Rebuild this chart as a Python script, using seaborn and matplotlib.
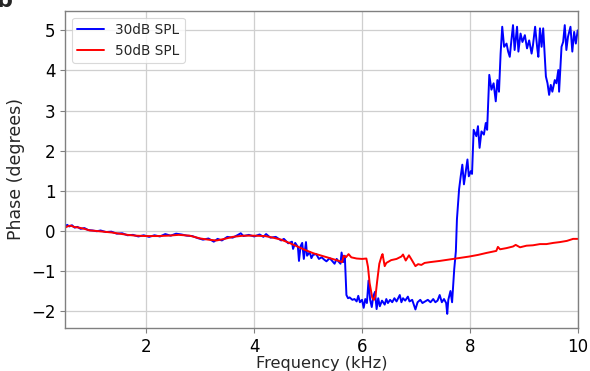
import numpy as np
import pandas as pd
import matplotlib
matplotlib.use("Agg")
import matplotlib.pyplot as plt
import seaborn as sns

# Phase response at 30 dB SPL (blue)
freq_30 = [0.49, 0.53, 0.57, 0.62, 0.67, 0.72, 0.78, 0.85, 0.92, 1.00, 1.08, 1.15, 1.25,
           1.35, 1.45, 1.55, 1.65, 1.75, 1.85, 1.95, 2.05, 2.15, 2.25, 2.35, 2.45, 2.55,
           2.65, 2.75, 2.85, 2.95, 3.05, 3.15, 3.25, 3.32, 3.40, 3.50, 3.60, 3.70, 3.75,
           3.80, 3.90, 4.00, 4.10, 4.17, 4.22, 4.30, 4.40, 4.50, 4.55, 4.63, 4.70, 4.72,
           4.76, 4.81, 4.83, 4.86, 4.89, 4.92, 4.96, 4.98, 5.03, 5.06, 5.09, 5.15, 5.20,
           5.25, 5.30, 5.34, 5.40, 5.45, 5.49, 5.53, 5.56, 5.60, 5.62, 5.65, 5.68, 5.71,
           5.74, 5.77, 5.82, 5.86, 5.90, 5.93, 5.96, 6.00, 6.03, 6.06, 6.09, 6.12, 6.15,
           6.18, 6.21, 6.24, 6.27, 6.30, 6.33, 6.37, 6.42, 6.45, 6.48, 6.52, 6.56, 6.60,
           6.64, 6.70, 6.73, 6.76, 6.80, 6.85, 6.88, 6.93, 6.99, 7.03, 7.08, 7.12, 7.17,
           7.22, 7.27, 7.32, 7.36, 7.40, 7.44, 7.48, 7.52, 7.56, 7.58, 7.60, 7.64, 7.67,
           7.71, 7.74, 7.76, 7.80, 7.83, 7.86, 7.89, 7.92, 7.955, 7.98, 8.017, 8.04, 8.07,
           8.12, 8.15, 8.18, 8.215, 8.26, 8.295, 8.32, 8.36, 8.40, 8.44, 8.48, 8.51, 8.54,
           8.57, 8.60, 8.635, 8.68, 8.71, 8.74, 8.77, 8.80, 8.83, 8.875, 8.90, 8.94, 8.975,
           9.02, 9.06, 9.10, 9.145, 9.17, 9.21, 9.25, 9.27, 9.30, 9.33, 9.36, 9.385, 9.41,
           9.44, 9.47, 9.50, 9.53, 9.575, 9.605, 9.64, 9.655, 9.70, 9.73, 9.76, 9.79, 9.82,
           9.866, 9.90, 9.934, 9.965, 10.0]
phase_30 = [0.09, 0.15, 0.11, 0.14, 0.08, 0.10, 0.05, 0.07, 0.02, 0.01, -0.01, 0.01, -0.03,
            -0.02, -0.07, -0.06, -0.11, -0.10, -0.14, -0.11, -0.15, -0.11, -0.14, -0.08, -0.12, -0.07,
            -0.09, -0.12, -0.13, -0.18, -0.22, -0.19, -0.27, -0.20, -0.24, -0.15, -0.17, -0.10, -0.06,
            -0.13, -0.10, -0.14, -0.09, -0.15, -0.08, -0.17, -0.15, -0.24, -0.20, -0.31, -0.27, -0.45,
            -0.30, -0.40, -0.75, -0.38, -0.30, -0.70, -0.28, -0.62, -0.53, -0.68, -0.60, -0.58, -0.70,
            -0.66, -0.72, -0.76, -0.68, -0.76, -0.82, -0.70, -0.76, -0.82, -0.54, -0.78, -0.62, -1.60,
            -1.68, -1.66, -1.72, -1.70, -1.76, -1.62, -1.78, -1.72, -1.92, -1.70, -1.80, -1.24, -1.72,
            -1.90, -1.62, -1.52, -1.95, -1.68, -1.88, -1.74, -1.84, -1.70, -1.80, -1.72, -1.78, -1.68,
            -1.76, -1.60, -1.78, -1.68, -1.74, -1.64, -1.76, -1.72, -1.96, -1.78, -1.72, -1.80, -1.76,
            -1.72, -1.78, -1.70, -1.78, -1.74, -1.60, -1.78, -1.70, -1.80, -2.07, -1.72, -1.50, -1.78,
            -0.95, -0.51, 0.29, 1.04, 1.36, 1.65, 1.16, 1.45, 1.78, 1.36, 1.49, 1.42, 2.52,
            2.36, 2.61, 2.07, 2.48, 2.40, 2.69, 2.52, 3.89, 3.52, 3.68, 3.23, 3.76, 3.47,
            4.42, 5.09, 4.59, 4.67, 4.47, 4.34, 4.75, 5.13, 4.51, 5.09, 4.47, 4.92, 4.71,
            4.88, 4.55, 4.75, 4.42, 4.63, 5.09, 4.55, 4.34, 5.05, 4.59, 5.05, 4.47, 3.85,
            3.68, 3.39, 3.64, 3.47, 3.76, 3.68, 4.01, 3.47, 4.59, 4.71, 5.13, 4.51, 4.84,
            5.09, 4.47, 4.96, 4.67, 5.00]

# Phase response at 50 dB SPL (red)
freq_50 = [0.49, 0.55, 0.60, 0.65, 0.75, 0.85, 0.95, 1.05, 1.20, 1.35, 1.50, 1.65, 1.80,
           2.00, 2.20, 2.40, 2.60, 2.80, 3.00, 3.15, 3.30, 3.45, 3.60, 3.80, 4.00, 4.20,
           4.35, 4.50, 4.65, 4.80, 4.95, 5.10, 5.25, 5.40, 5.55, 5.63, 5.66, 5.70, 5.75,
           5.80, 5.90, 6.00, 6.08, 6.11, 6.14, 6.19, 6.22, 6.25, 6.28, 6.32, 6.36, 6.38,
           6.42, 6.45, 6.54, 6.64, 6.73, 6.76, 6.81, 6.87, 6.92, 6.99, 7.04, 7.10, 7.16,
           7.26, 7.44, 7.69, 7.99, 8.15, 8.31, 8.49, 8.52, 8.56, 8.68, 8.80, 8.85, 8.93,
           9.05, 9.17, 9.30, 9.42, 9.55, 9.67, 9.80, 9.915, 10.0]
phase_50 = [0.08, 0.12, 0.13, 0.10, 0.08, 0.05, 0.01, 0.00, -0.02, -0.04, -0.07, -0.10, -0.12,
            -0.13, -0.13, -0.12, -0.10, -0.12, -0.19, -0.22, -0.24, -0.20, -0.15, -0.12, -0.12, -0.13,
            -0.17, -0.22, -0.30, -0.39, -0.48, -0.56, -0.62, -0.68, -0.74, -0.78, -0.62, -0.66, -0.58,
            -0.66, -0.69, -0.70, -0.69, -0.90, -1.30, -1.67, -1.72, -1.62, -1.26, -0.82, -0.64, -0.58,
            -0.88, -0.80, -0.73, -0.70, -0.64, -0.59, -0.74, -0.61, -0.72, -0.88, -0.83, -0.85, -0.80,
            -0.78, -0.75, -0.70, -0.64, -0.60, -0.55, -0.50, -0.40, -0.46, -0.43, -0.39, -0.35, -0.41,
            -0.37, -0.36, -0.33, -0.33, -0.30, -0.28, -0.25, -0.20, -0.20]

labels = ["30dB SPL", "50dB SPL"]
colors = ["blue", "red"]

df = pd.concat([
    pd.DataFrame({"freq": freq_30, "phase": phase_30, "level": labels[0]}),
    pd.DataFrame({"freq": freq_50, "phase": phase_50, "level": labels[1]}),
], ignore_index=True)

sns.set_theme(style="ticks")
plt.rcParams["font.family"] = ["DejaVu Sans"]

fig = plt.figure(figsize=(5.9, 3.71), dpi=100)
ax = fig.add_axes([65 / 590, 1 - 328.3 / 371, (577.7 - 65) / 590, (328.3 - 10.7) / 371])

sns.lineplot(data=df, x="freq", y="phase", hue="level", hue_order=labels,
             palette=dict(zip(labels, colors)), estimator=None, sort=False,
             linewidth=1.4, ax=ax)

ax.set_xlim(min(freq_30), max(freq_30))
ax.margins(y=0.05)
ax.set_xticks([2, 4, 6, 8, 10])
ax.set_yticks([-2, -1, 0, 1, 2, 3, 4, 5])
ax.grid(True, color="#cfcfcf", linewidth=0.9)
for s in ax.spines.values():
    s.set_color("#808080")
    s.set_linewidth(1.0)
ax.tick_params(axis="both", labelsize=12, length=3.5, width=0.8, color="#808080",
               labelcolor="black")
ax.set_xlabel("Frequency (kHz)", fontsize=11.6, labelpad=-0.3)
ax.set_ylabel("Phase (degrees)", fontsize=12.5, labelpad=4)

leg = ax.legend(loc="upper left", fontsize=9.8, frameon=True, handlelength=2.0,
                borderaxespad=0.5)
leg.get_frame().set_edgecolor("#d0d0d0")
leg.get_frame().set_linewidth(0.8)

# panel letter in the top-left corner
fig.text(-0.006, 1 - 7 / 371, "b", fontsize=16, fontweight="bold", va="baseline", ha="left")

fig.savefig("out.png", dpi=100)
